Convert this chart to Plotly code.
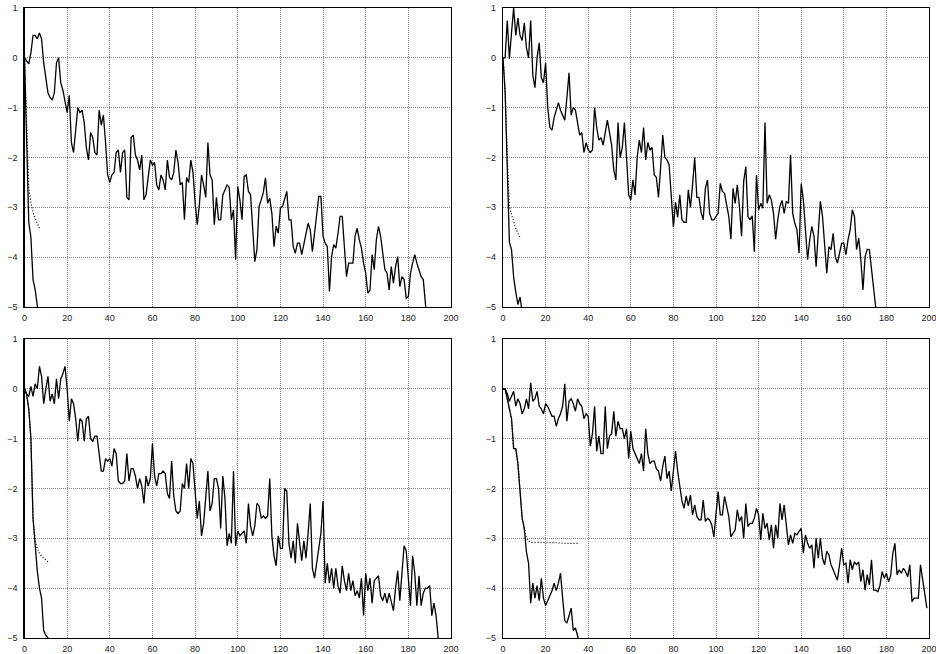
import plotly.graph_objects as go

# ---------------- data ----------------
x_ticks = [0, 20, 40, 60, 80, 100, 120, 140, 160, 180, 200]
y_ticks = [-5, -4, -3, -2, -1, 0, 1]

p1_main = [0, -0.05, -0.12, 0.1, 0.45, 0.45, 0.38, 0.5, 0.38, -0.1, -0.4, -0.7, -0.8, -0.85, -0.7, -0.1, 0.0, -0.5, -0.65, -0.85,
           -1.1, -0.75, -1.7, -1.9, -1.5, -1.0, -1.1, -1.05, -1.3, -1.8,
           -2.05, -1.5, -1.6, -1.9, -1.95, -1.05, -1.35, -1.15, -1.7, -2.35,
           -2.5, -2.35, -2.3, -1.9, -1.85, -2.3, -1.9, -1.85, -2.8, -2.85,
           -1.6, -1.55, -1.95, -2.05, -2.25, -1.95, -2.85, -2.75, -2.4, -2.05,
           -2.15, -2.1, -2.55, -2.65, -2.35, -2.45, -2.65, -2.05, -2.4, -2.45,
           -2.3, -1.85, -2.1, -2.55, -2.5, -3.25, -2.4, -2.5, -2.05, -2.3,
           -2.9, -3.35, -2.95, -2.35, -2.55, -2.8, -1.7, -2.35, -2.45, -3.35,
           -2.8, -3.25, -3.25, -2.75, -2.65, -2.55, -2.6, -3.25, -3.05, -4.05,
           -2.58, -2.85, -3.25, -2.38, -2.35, -2.68, -2.75, -3.52, -4.09, -3.85,
           -2.98, -2.85, -2.7, -2.41, -2.92, -2.82, -3.12, -3.79, -3.38, -3.52,
           -3.02, -2.98, -2.85, -2.68, -3.25, -3.25, -3.79, -3.92, -3.72, -3.72,
           -3.95, -3.72, -3.52, -3.32, -3.45, -3.89, -3.52, -3.12, -2.78, -2.78,
           -3.58, -3.72, -3.79, -4.69, -3.99, -3.75, -3.82, -3.52, -3.18, -3.18,
           -3.82, -4.39, -4.12, -4.12, -4.12, -3.58, -3.42, -3.65, -3.82, -4.12,
           -4.32, -4.72, -4.66, -3.95, -4.25, -3.65, -3.38, -3.58, -3.92, -4.25,
           -4.32, -4.66, -4.19, -4.52, -4.19, -3.99, -4.59, -4.39, -4.45, -4.82,
           -4.79, -4.32, -4.12, -3.95, -4.12, -4.25, -4.39, -4.45, -4.99, -5.4]
p1_fast = [0, -1.6, -3.3, -3.6, -4.45, -4.65, -5.0, -5.3]
p1_dot = [0, -1.5, -2.6, -2.9, -3.1, -3.22, -3.33, -3.42]

p2_main = [0, 0.0, 0.75, -0.02, 0.5, 1.0, 0.45, 0.8, 0.45, 0.35, 0.7, 0.2, 0.0, 0.75, -0.35, -0.6, 0.0, 0.3, -0.4, -0.5,
           -0.1, -1.0, -1.4, -1.45, -1.2, -1.05, -0.9, -1.05, -1.15, -1.25,
           -0.8, -0.3, -1.15, -1.0, -1.05, -1.3, -1.55, -1.5, -1.9, -1.7,
           -1.85, -1.9, -1.85, -1.0, -1.4, -1.65, -1.6, -1.75, -1.5, -1.25,
           -1.5, -1.75, -2.25, -2.45, -1.3, -2.0, -1.8, -1.3, -2.0, -2.75,
           -2.85, -2.45, -2.75, -2.0, -1.65, -1.9, -1.4, -2.05, -1.7, -1.85,
           -1.8, -2.35, -2.4, -2.8, -2.2, -1.55, -2.0, -2.05, -2.15, -2.8,
           -3.4, -2.9, -3.2, -2.75, -3.25, -3.3, -3.3, -2.65, -3.0, -2.55,
           -2.0, -2.8, -2.8, -3.1, -3.25, -2.62, -2.45, -3.12, -3.25, -3.25,
           -3.17, -3.12, -2.52, -2.68, -2.72, -2.92, -3.18, -3.64, -2.62, -2.92,
           -2.55, -2.98, -3.58, -2.48, -2.18, -3.18, -3.25, -3.17, -3.89, -2.35,
           -3.05, -2.92, -3.02, -1.3, -2.92, -2.75, -2.85, -3.12, -3.64, -3.25,
           -2.98, -2.86, -3.12, -2.88, -2.92, -1.95, -3.12, -3.32, -3.45, -3.92,
           -2.52, -2.85, -3.52, -4.05, -3.65, -3.38, -3.58, -4.19, -3.52, -2.88,
           -3.18, -3.79, -4.32, -3.79, -3.85, -3.52, -3.99, -4.12, -3.92, -3.72,
           -3.72, -3.95, -3.65, -3.45, -3.05, -3.18, -3.85, -3.62, -4.05, -4.66,
           -3.99, -3.84, -3.85, -4.25, -4.66, -5.0, -5.4]
p2_fast = [0, -0.7, -2.2, -3.7, -3.85, -4.4, -4.7, -4.95, -4.8, -5.1]
p2_dot = [0, -0.6, -2.0, -2.95, -3.15, -3.3, -3.42, -3.52, -3.6]

p3_main = [0, -0.1, -0.15, 0.05, -0.15, 0.1, 0.0, 0.45, 0.25, -0.3, 0.0, 0.25, -0.25, -0.1, -0.3, 0.2, -0.2, 0.2, 0.3, 0.45,
           0.0, -0.65, -0.2, -0.3, -0.6, -1.05, -0.6, -0.65, -1.05, -0.6,
           -0.55, -1.0, -1.05, -0.95, -0.95, -1.25, -1.65, -1.65, -1.4, -1.45,
           -1.4, -1.55, -1.2, -1.3, -1.85, -1.9, -1.9, -1.85, -1.3, -1.85,
           -1.6, -1.6, -1.75, -2.0, -1.8, -1.95, -2.3, -1.75, -1.95, -1.8,
           -1.1, -1.75, -1.95, -1.7, -1.7, -1.65, -1.7, -2.1, -2.2, -1.45,
           -2.15, -2.45, -2.5, -2.45, -1.9, -2.0, -1.5, -2.0, -1.4, -1.5,
           -2.0, -2.6, -2.25, -2.95, -2.7, -2.2, -1.65, -2.45, -2.3, -1.8,
           -1.8, -2.0, -2.8, -1.75, -2.2, -3.15, -2.9, -3.1, -1.65, -3.15,
           -2.85, -2.95, -2.9, -2.85, -3.1, -2.3, -2.75, -2.95, -2.75, -2.3,
           -2.35, -2.6, -2.55, -2.6, -2.55, -1.8, -2.95, -3.35, -3.55, -2.95,
           -3.2, -3.2, -2.0, -2.05, -3.1, -3.4, -3.05, -3.5, -2.7, -3.1,
           -3.45, -3.05, -3.4, -2.9, -2.3, -3.6, -3.8, -3.5, -3.2, -2.9,
           -2.25, -3.9, -3.5, -3.9, -3.6, -4.0, -3.6, -3.95, -4.1, -3.55,
           -3.85, -4.05, -3.7, -4.05, -3.85, -4.15, -4.05, -4.2, -3.8, -4.55,
           -3.7, -4.05, -3.8, -4.3, -3.85, -3.8, -3.75, -4.15, -4.25, -4.1,
           -4.3, -4.1, -4.25, -4.45, -4.0, -3.65, -4.25, -3.6, -3.15, -3.25,
           -3.75, -4.35, -3.35, -3.7, -4.35, -3.75, -4.35, -4.1, -4.0, -4.0,
           -3.95, -4.55, -4.3, -4.55, -5.0, -5.4]
p3_fast = [0, -0.12, -0.4, -1.0, -2.6, -3.2, -3.65, -4.0, -4.2, -4.85, -4.95, -5.0, -5.05]
p3_dot = [0, -0.12, -0.4, -1.0, -2.6, -3.05, -3.2, -3.3, -3.36, -3.4, -3.44, -3.47]

p4_main = [0, 0.0, -0.1, -0.25, -0.15, -0.05, -0.35, -0.2, -0.3, -0.5, -0.4, -0.2, -0.4, 0.12, -0.25, -0.2, -0.05, -0.35, -0.4, -0.5,
           -0.3, -0.35, -0.45, -0.55, -0.55, -0.75, -0.6, -0.5, -0.35, 0.1,
           -0.65, -0.25, -0.2, -0.3, -0.45, -0.2, -0.3, -0.35, -0.6, -0.5,
           -0.55, -1.15, -0.9, -0.35, -1.25, -0.95, -1.3, -1.3, -0.35, -1.2,
           -0.95, -0.9, -0.45, -0.95, -0.65, -0.8, -0.8, -1.0, -0.8, -1.4,
           -0.85, -1.2, -1.3, -1.4, -1.5, -1.3, -1.65, -0.8, -1.3, -1.5,
           -1.45, -1.45, -1.6, -1.65, -1.85, -1.55, -1.35, -1.8, -1.65, -2.05,
           -1.6, -1.25, -1.65, -2.0, -2.25, -2.4, -2.15, -2.35,
           -2.13, -2.53, -2.33, -2.56, -2.63, -2.63, -2.23, -2.66, -2.60, -2.63,
           -2.73, -2.97, -2.56, -2.06, -2.53, -2.53, -2.16, -2.40, -2.56, -2.97,
           -2.90, -2.83, -2.43, -2.66, -2.56, -3.0, -2.30, -2.76, -2.70, -2.70,
           -2.60, -2.40, -2.53, -3.03, -2.50, -2.80, -2.70, -3.03, -2.73, -3.2,
           -2.73, -3.0, -2.30, -2.63, -2.33, -2.80, -3.13, -2.93, -3.10, -2.90,
           -2.93, -2.86, -2.80, -3.30, -2.93, -3.10, -3.20, -3.13, -3.60, -3.0,
           -3.40, -3.0, -3.40, -3.53, -3.26, -3.33, -3.53, -3.63, -3.73, -3.84,
           -3.53, -3.20, -3.53, -3.50, -3.90, -3.43, -3.63, -3.47, -3.53, -3.47,
           -3.87, -3.63, -4.04, -3.73, -3.94, -3.43, -4.04, -4.04, -4.07, -3.94,
           -3.67, -3.80, -3.70, -3.87, -3.75, -3.30, -3.10, -3.73, -3.63, -3.70,
           -3.60, -3.67, -3.77, -3.53, -4.27, -4.20, -4.20, -4.20, -3.53, -3.80, -4.10, -4.40]
p4_fast = [0, 0.0, -0.2, -0.4, -0.6, -1.2, -1.2, -1.5, -2.0, -2.6, -2.8, -3.27, -3.5, -4.3, -3.9, -4.2, -3.95, -4.25, -3.8, -4.2,
           -4.35, -4.25, -4.15, -4.05, -3.9, -4.05, -3.9, -3.7, -4.2, -4.65, -4.7, -4.55, -4.4, -4.85, -4.8, -4.95, -5.2]
p4_dot = [0, 0.0, -0.2, -0.4, -0.6, -1.2, -1.2, -1.5, -2.0, -2.6, -2.8, -3.0, -3.05, -3.08, -3.08, -3.08, -3.08, -3.08, -3.08, -3.08,
          -3.09, -3.09, -3.09, -3.09, -3.09, -3.09, -3.09, -3.09, -3.1, -3.1, -3.1, -3.1, -3.1, -3.1, -3.1, -3.1]

panels = [
    (p1_main, p1_fast, p1_dot),
    (p2_main, p2_fast, p2_dot),
    (p3_main, p3_fast, p3_dot),
    (p4_main, p4_fast, p4_dot),
]

# ---------------- layout (pixel geometry) ----------------
W, H = 936, 654
# plot areas in window pixels: (left, right, top, bottom)
areas = [(24.5, 451, 8, 307), (503, 929, 8, 307), (24.5, 451, 339, 638), (503, 929, 339, 638)]

fig = go.Figure()
font = dict(family="Liberation Sans, Arial, sans-serif", size=9, color="#222")

for i, ((main, fast, dot), (l, r, t, b)) in enumerate(zip(panels, areas)):
    n = i + 1
    xa = "x" if n == 1 else f"x{n}"
    ya = "y" if n == 1 else f"y{n}"
    for ys, dash, w in ((dot, "1px,2px", 1.2), (fast, "solid", 1.3), (main, "solid", 1.3)):
        fig.add_trace(go.Scatter(x=list(range(len(ys))), y=ys, mode="lines",
                                 line=dict(color="black", width=w, dash=dash),
                                 xaxis=xa, yaxis=ya, showlegend=False, hoverinfo="skip"))
    axis_common = dict(showgrid=True, gridcolor="#808080", griddash="1px,1px", gridwidth=1,
                       zeroline=False, showline=True, linecolor="black", linewidth=1.3,
                       mirror=True, ticks="", tickfont=font, automargin=False,
                       ticklabeloverflow="allow")
    fig.layout[f"xaxis{'' if n == 1 else n}"] = dict(
        domain=[l / W, r / W], range=[0, 200], tickvals=x_ticks, anchor=ya,
        ticklabelstandoff=2, **axis_common)
    fig.layout[f"yaxis{'' if n == 1 else n}"] = dict(
        domain=[(H - b) / H, (H - t) / H], range=[-5, 1], tickvals=y_ticks, anchor=xa,
        ticklabelstandoff=4, **axis_common)

fig.update_layout(width=W, height=H, margin=dict(l=0, r=0, t=0, b=0, pad=0, autoexpand=False),
                  paper_bgcolor="white", plot_bgcolor="white", showlegend=False)

# remove the default page margin so the figure fills the window exactly
fig.write_html("out.html",
               config={"displayModeBar": False, "staticPlot": True},
               post_script="document.body.style.margin='0';"
                           "document.documentElement.style.overflow='hidden';")
